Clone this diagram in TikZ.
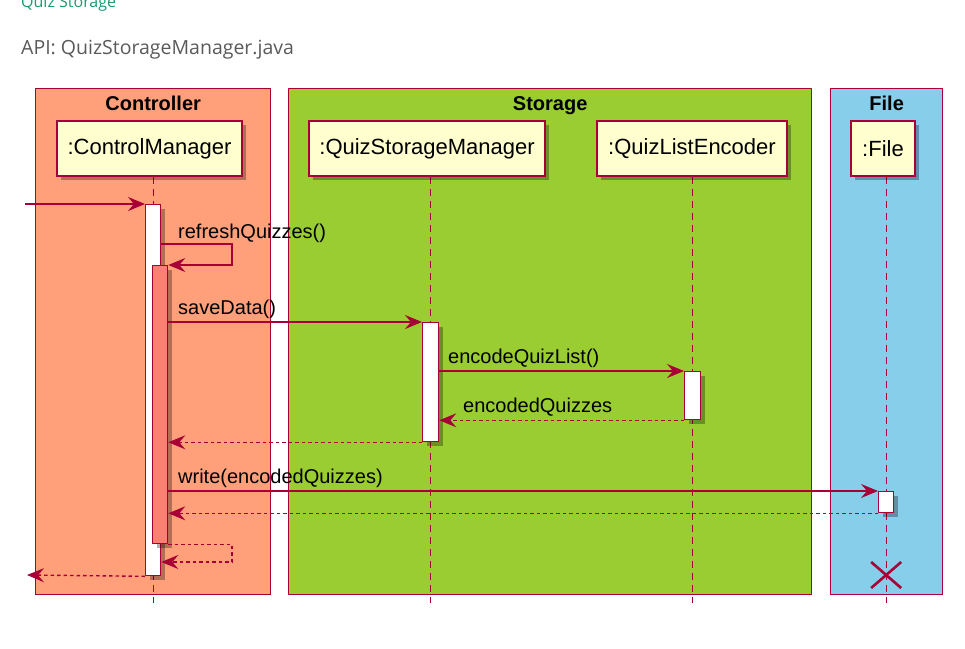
\documentclass[tikz,border=0pt]{standalone}
\usepackage{fontspec}
\setmainfont{Liberation Sans}
\newfontfamily\opensans{Open Sans}
\usetikzlibrary{arrows.meta,shadows,calc}
\definecolor{pborder}{HTML}{A80036}
\definecolor{pfill}{HTML}{FEFECE}
\definecolor{ctrlfill}{HTML}{FFA07A}
\definecolor{storfill}{HTML}{9ACD32}
\definecolor{filefill}{HTML}{87CEEB}
\definecolor{nestfill}{HTML}{FA8072}
\definecolor{linkgreen}{HTML}{1A9A6E}
\definecolor{apigray}{HTML}{5A5A5A}
\pgfdeclarelayer{bg}
\pgfsetlayers{bg,main}
\begin{document}
\begin{tikzpicture}[x=1pt,y=-1pt,
 grp/.style={draw=pborder, line width=1.3pt, anchor=north west, inner sep=0pt},
 grptitle/.style={font=\bfseries\fontsize{20}{23}\selectfont, anchor=base, inner sep=0pt},
 shad/.style={drop shadow={shadow xshift=4pt, shadow yshift=-4pt, opacity=0.3, fill=black}},
 part/.style={draw=pborder, line width=1.7pt, fill=pfill, minimum height=55pt, inner sep=0pt, font=\fontsize{22}{25}\selectfont, shad},
 act/.style={draw=pborder, line width=1.3pt, anchor=north west, inner sep=0pt, minimum width=15pt, shad},
 life/.style={draw=pborder, line width=1.3pt, dash pattern=on 7pt off 5pt},
 msg/.style={draw=pborder, line width=1.4pt, -{Stealth[length=17pt,width=14pt,inset=6pt]}},
 ret/.style={msg, dash pattern=on 3.5pt off 3pt},
 lbl/.style={anchor=base west, font=\fontsize{20}{24}\selectfont, inner sep=0pt},
 hdr/.style={anchor=base west, inner sep=0pt},
]
\useasboundingbox (0,0) rectangle (965,648);

% header texts
\node[hdr, font=\opensans\fontsize{16}{19}\selectfont, text=linkgreen] (h1) at (21,7) {Quiz Storage};
\node[hdr, font=\opensans\fontsize{19.5}{23}\selectfont, text=apigray] (h2) at (21,54) {API: QuizStorageManager.java};

% activations
\node[act, fill=white, minimum height=371pt] (a1) at (145,204) {};
\node[act, fill=nestfill, minimum height=278pt] (a2) at (152,265) {};
\node[act, fill=white, minimum width=16pt, minimum height=119pt] (a3) at (422,322) {};
\node[act, fill=white, minimum width=16pt, minimum height=48pt] (a4) at (684,371) {};
\node[act, fill=white, minimum height=21pt] (a5) at (878,491) {};

% participants
\node[part, minimum width=185pt] (cm) at (149.5,148.5) {:ControlManager};
\node[part, minimum width=236pt] (qsm) at (427,148.5) {:QuizStorageManager};
\node[part, minimum width=190pt] (qle) at (692,148.5) {:QuizListEncoder};
\node[part, minimum width=64pt] (fl) at (883,148.5) {:File};

\begin{pgfonlayer}{bg}
\node[grp, fill=ctrlfill, minimum width=235pt, minimum height=506pt] (gctrl) at (35,88) {};
\node[grp, fill=storfill, minimum width=523pt, minimum height=506pt] (gstor) at (288,88) {};
\node[grp, fill=filefill, minimum width=112pt, minimum height=506pt] (gfile) at (830,88) {};
\draw[life] (a1.center |- cm.south) -- (a1.center |- 0,603);
\draw[life] (a3.center |- qsm.south) -- (a3.center |- 0,603);
\draw[life] (a4.center |- qle.south) -- (a4.center |- 0,603);
\draw[life] (a5.center |- fl.south) -- (a5.center |- 0,603);
\end{pgfonlayer}

\node[grptitle] (t1) at (gctrl.north |- 0,110) {Controller};
\node[grptitle] (t2) at (gstor.north |- 0,110) {Storage};
\node[grptitle] (t3) at (gfile.north |- 0,110) {File};

% messages
\coordinate (inL) at (25,204);
\coordinate (outL) at (27,575);
\draw[msg] (inL) -- (a1.north west);

\draw[msg] (a1.east |- 0,244) -| (232,265) -- (a2.north east);
\node[lbl] (l1) at (178,238) {refreshQuizzes()};

\draw[msg] (a2.east |- a3.north west) -- (a3.north west);
\node[lbl] (l2) at (178,314) {saveData()};

\draw[msg] (a3.east |- a4.north west) -- (a4.north west);
\node[lbl] (l3) at (448,363) {encodeQuizList()};

\draw[ret] (a4.south west) -- (a3.east |- a4.south west);
\node[lbl] (l4) at (463,412) {encodedQuizzes};

\draw[ret] (a3.south west) -- (a2.east |- a3.south west);

\draw[msg] (a2.east |- a5.north west) -- (a5.north west);
\node[lbl] (l5) at (178,483) {write(encodedQuizzes)};

\draw[ret] (a5.south west) -- (a2.east |- a5.south west);

\draw[ret] (a2.south east) -| (232,562) -- (a1.east |- 0,562);

\draw[ret] (a1.south west) -- (outL);

% destroy mark
\coordinate (xd) at (a5.center |- 0,575);
\draw[pborder, line width=2.6pt] ($(xd)+(-15,-13)$) -- ($(xd)+(15,13)$) ($(xd)+(-15,13)$) -- ($(xd)+(15,-13)$);
\end{tikzpicture}
\end{document}
